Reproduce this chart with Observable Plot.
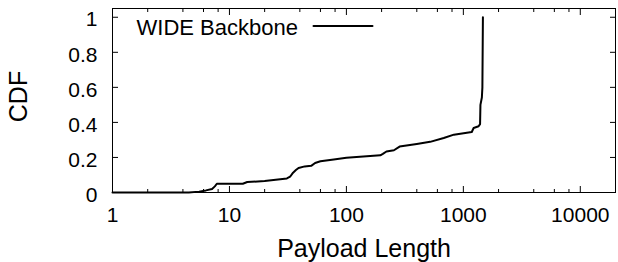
<!DOCTYPE html>
<html><head><meta charset="utf-8">
<script src="https://cdn.jsdelivr.net/npm/d3@7"></script>
<script src="https://cdn.jsdelivr.net/npm/@observablehq/plot@0.6"></script>
<style>
body{margin:0;background:#fff}
svg{font-family:"Liberation Sans",Arial,sans-serif}
</style>
</head><body><div id="chart"></div>
<script>
const payloadLength = [1, 4.5, 5.5, 6.3, 7.1, 7.5, 7.8, 13, 14.2, 20, 31, 33, 35, 37, 39, 44, 50, 54, 60, 78, 100, 195, 205, 220, 255, 285, 400, 520, 680, 830, 1180, 1225, 1350, 1390, 1400, 1440, 1455, 1470];
const cdf = [0, 0, 0.005, 0.012, 0.02, 0.035, 0.05, 0.05, 0.06, 0.065, 0.08, 0.09, 0.113, 0.128, 0.14, 0.149, 0.152, 0.168, 0.178, 0.188, 0.198, 0.212, 0.22, 0.234, 0.241, 0.262, 0.277, 0.289, 0.311, 0.33, 0.345, 0.368, 0.378, 0.39, 0.5, 0.542, 0.6, 1.0];
const xTicks = [1, 10, 100, 1000, 10000];
const xMinorTicks = [2, 4, 6, 8, 20, 40, 60, 80, 200, 400, 600, 800, 2000, 4000, 6000, 8000];
const yTicks = [0, 0.2, 0.4, 0.6, 0.8, 1];
const seriesLabel = "WIDE Backbone";
const xLabel = "Payload Length";
const yLabel = "CDF";

const data = payloadLength.map((x, i) => ({x, y: cdf[i]}));
const legendLine = {draw(context, l) { context.moveTo(0, 0); context.lineTo(0, -l); }};

const chart = Plot.plot({
  width: 618, height: 262,
  marginLeft: 112, marginRight: 3, marginTop: 8, marginBottom: 70,
  style: {fontFamily: '"Liberation Sans", Arial, sans-serif', fontSize: "21px", color: "black", background: "white", overflow: "visible"},
  x: {type: "log", domain: [1, 20000], label: null},
  y: {domain: [0, 1.05], label: null},
  marks: [
    Plot.axisX(xTicks, {anchor: "bottom", tickSize: 0, tickPadding: 15, tickFormat: d => String(d), fontSize: 21}),
    Plot.axisX(xTicks, {anchor: "bottom", text: null, tickSize: -6}),
    Plot.axisX(xTicks, {anchor: "top", text: null, tickSize: -6}),
    Plot.axisX(xMinorTicks, {anchor: "bottom", text: null, tickSize: -3}),
    Plot.axisX(xMinorTicks, {anchor: "top", text: null, tickSize: -3}),
    Plot.axisY(yTicks, {anchor: "left", tickSize: 0, tickPadding: 15, dy: 2.5, tickFormat: d => String(d), fontSize: 21}),
    Plot.axisY(yTicks, {anchor: "left", text: null, tickSize: -6}),
    Plot.axisY(yTicks, {anchor: "right", text: null, tickSize: -6}),
    Plot.line(data, {x: "x", y: "y", stroke: "black", strokeWidth: 2}),
    Plot.frame({stroke: "black", strokeWidth: 1}),
    Plot.text([seriesLabel], {frameAnchor: "top-left", textAnchor: "start", lineAnchor: "top", dx: 24, dy: 10.5, fontSize: 22, fill: "black"}),
    Plot.vector([seriesLabel], {frameAnchor: "top-left", dx: 201, dy: 17.5, length: 59, rotate: 90, anchor: "start", shape: legendLine, stroke: "black", strokeWidth: 2}),
    Plot.text([xLabel], {frameAnchor: "bottom", lineAnchor: "top", dy: 47, fontSize: 25, fill: "black"}),
    Plot.text([yLabel], {frameAnchor: "left", rotate: -90, dx: -93.5, dy: -4, fontSize: 25, fill: "black", textAnchor: "middle", lineAnchor: "middle"})
  ]
});
document.getElementById("chart").appendChild(chart);
</script>
</body></html>
